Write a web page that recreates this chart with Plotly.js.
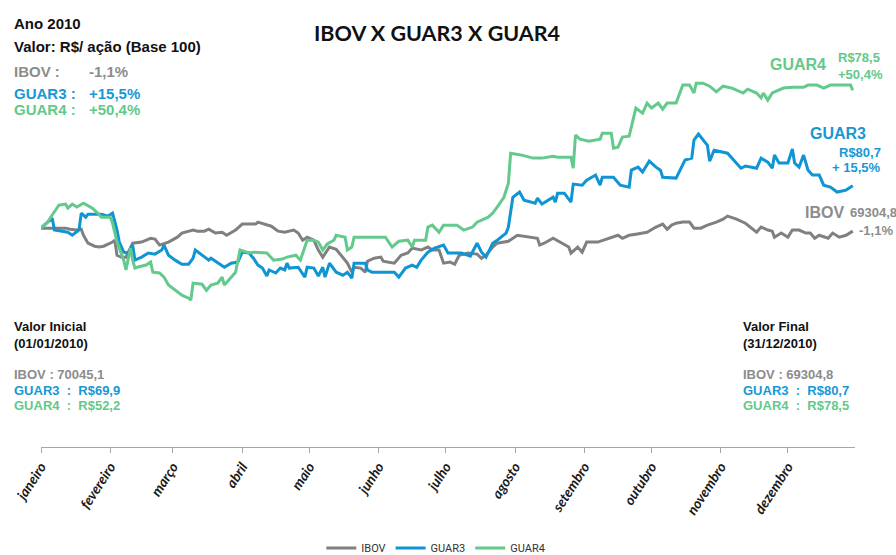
<!DOCTYPE html>
<html>
<head>
<meta charset="utf-8">
<script src="https://cdn.plot.ly/plotly-3.0.1.min.js"></script>
<style>
  body { margin: 0; background: #fff; }
  #plotArea { width: 896px; height: 555px; }
</style>
</head>
<body>
<div id="plotArea"></div>
<script>
// dias do ano (0 = 01/01/2010), valores em base 100
var ibovDays = [0,6,11,13,16,18,19,21,24,26,28,32,33,34,36,38,40,41,45,49,51,53,57,61,63,68,70,73,75,78,81,83,87,90,94,96,97,100,103,106,109,113,115,117,119,122,124,126,129,132,135,137,139,140,143,145,146,149,152,153,155,158,161,164,166,170,173,175,178,180,183,185,187,190,191,195,197,199,202,204,209,213,218,222,223,225,229,233,236,237,240,242,244,249,254,258,260,263,266,269,271,275,278,280,282,284,287,290,292,295,298,302,305,307,311,315,317,320,322,325,327,328,331,334,336,339,342,344,346,348,352,354,357,360,363];
var ibovValues = [100,100,100,99.6,99.3,99.6,97.4,94.5,93.4,93.1,93.4,94.9,95.6,90.1,89.4,89.4,93.1,94.5,94.9,96.3,96.0,93.8,94.9,96.7,98.2,99.3,98.9,98.9,99.6,98.2,98.5,97.4,99.3,101.5,101.5,101.5,102.2,101.5,100.7,98.9,98.5,99.3,98.2,95.6,96.7,95.6,92.0,89.4,93.1,92.3,89.4,87.2,83.9,85.7,85.4,83.9,87.9,89.0,89.4,87.9,87.6,87.2,90.1,90.9,92.7,92.0,93.1,92.0,92.0,87.2,87.6,86.8,90.1,90.5,90.9,90.5,89.0,90.1,93.1,94.5,95.2,97.4,96.7,96.3,93.8,94.5,96.3,94.5,93.1,90.9,93.1,91.2,94.9,94.9,96.3,97.4,96.3,97.4,97.8,98.2,98.5,100.4,101.5,99.6,101.1,101.8,102.2,102.2,100.0,100.0,101.1,102.2,103.3,104.4,103.3,101.8,100.4,98.5,100.4,99.3,98.9,96.7,98.2,96.7,99.3,99.3,98.2,98.2,96.3,97.4,96.3,98.2,96.7,97.4,98.9];

var guar3Days = [0,5,6,9,12,14,17,18,20,21,27,30,32,34,35,37,39,41,42,45,48,51,54,55,57,60,63,66,68,69,72,75,76,79,82,85,88,90,93,95,97,99,101,102,105,107,109,110,111,115,118,119,122,124,126,127,129,132,135,137,139,140,145,146,148,158,160,163,166,168,170,173,176,180,182,186,188,192,195,197,199,202,204,208,209,211,214,216,221,222,224,229,230,231,234,237,238,242,244,248,250,251,256,259,263,264,267,269,272,275,277,278,284,288,291,292,294,298,299,301,307,313,315,320,322,325,327,328,330,334,336,337,339,341,343,345,348,350,353,356,360,363];
var guar3Values = [100,103.7,99.3,98.9,98.5,97.4,99.3,105.5,104.0,105.1,105.1,104.4,105.5,99.3,94.9,91.2,90.9,93.8,88.3,89.4,90.9,90.5,92.0,93.8,90.1,88.3,86.8,86.8,89.0,92.0,90.1,88.3,89.0,87.2,85.7,87.2,87.6,91.2,90.9,89.0,86.5,85.4,82.5,84.7,83.6,85.4,84.7,87.2,85.4,85.7,82.1,85.7,85.4,82.5,85.7,82.1,87.2,83.9,82.8,83.9,81.7,87.2,87.2,84.7,83.9,83.9,82.1,85.4,86.5,85.7,88.3,91.2,92.7,93.8,90.9,90.9,90.9,89.8,94.5,91.2,89.4,94.5,95.6,98.2,100.4,111.3,113.2,110.2,109.1,111.0,108.8,111.3,109.5,112.8,112.8,109.5,116.1,115.7,117.5,119.4,115.7,118.6,118.6,115.7,115.0,121.2,122.3,120.5,124.5,122.3,121.2,118.6,118.3,124.9,125.6,132.2,134.4,130.3,124.5,128.5,127.4,121.9,122.7,121.9,125.6,124.1,121.9,126.7,123.8,123.8,128.9,123.8,122.3,126.7,121.2,119.4,119.4,115.7,115.0,113.2,113.9,115.5];

var guar4Days = [0,3,5,8,11,12,14,16,19,23,25,27,31,32,34,37,38,40,41,42,43,47,49,50,53,55,57,60,63,66,67,68,72,74,76,79,81,82,84,87,89,93,95,101,104,108,110,114,116,117,119,122,124,126,128,131,132,136,137,139,140,151,154,157,160,164,166,167,172,173,175,178,180,186,189,193,195,200,202,204,207,209,210,215,220,224,229,231,237,238,239,241,245,250,251,255,256,258,260,263,266,269,271,273,276,278,280,284,286,287,290,292,293,296,299,302,305,309,314,316,320,322,323,325,327,332,336,341,343,347,350,353,362,363];
var guar4Values = [100,102.2,104.8,108.4,108.8,107.3,108.8,107.7,109.1,107.3,105.8,104.0,104.0,101.8,94.9,88.3,84.7,92.7,88.3,85.4,85.7,86.5,87.6,83.9,83.6,82.1,79.2,77.3,75.5,74.4,73.7,79.9,79.5,77.3,79.2,79.9,82.1,79.2,81.0,83.9,92.0,90.9,91.2,90.9,88.3,88.7,89.4,90.1,88.3,90.9,95.6,95.6,94.9,92.0,94.2,95.6,97.4,96.7,92.0,93.1,96.7,96.7,96.7,93.1,95.2,95.6,93.1,95.6,95.6,100.4,101.1,98.5,101.1,101.1,99.3,100.4,102.2,104.0,105.5,107.7,111.3,116.4,127.4,126.7,125.6,125.6,126.3,125.9,125.9,121.9,134.0,132.5,131.8,132.5,134.7,134.7,129.2,129.6,133.3,133.6,143.9,142.0,145.7,143.9,145.7,143.5,145.7,145.7,149.8,152.3,152.3,149.4,153.0,153.0,151.9,149.8,151.9,151.2,149.4,150.8,149.4,147.6,149.4,146.8,149.4,151.2,151.5,151.5,152.3,152.3,151.2,152.3,152.3,150.4];

var monthTicks = [0,31,59,90,120,151,181,212,243,273,304,334];
var monthLabels = ["janeiro","fevereiro","março","abril","maio","junho","julho","agosto","setembro","outubro","novembro","dezembro"];

var GRAY = "#808080", BLUE = "#0f95d3", GREEN = "#63c98c";
var GRAY_TXT = "#8c8c8c", BLUE_TXT = "#1798d5", GREEN_TXT = "#62c98b";

var data = [
  { x: ibovDays, y: ibovValues, name: "IBOV", type: "scatter", mode: "lines",
    line: { color: GRAY, width: 3 } },
  { x: guar3Days, y: guar3Values, name: "GUAR3", type: "scatter", mode: "lines",
    line: { color: BLUE, width: 3 } },
  { x: guar4Days, y: guar4Values, name: "GUAR4", type: "scatter", mode: "lines",
    line: { color: GREEN, width: 3 } }
];

// pixel -> paper (plot area: x 41..855, y 64..447)
function px(x) { return (x - 41) / 814; }
function py(y) { return (447 - y) / 383; }

var SANS = "Liberation Sans, Arial, sans-serif";
function note(text, x, y, size, color, anchor) {
  return {
    text: "<b>" + text + "</b>", xref: "paper", yref: "paper",
    x: px(x), y: py(y), xanchor: anchor || "left", yanchor: "middle",
    showarrow: false, font: { family: SANS, size: size, color: color }
  };
}

var annotations = [
  { text: "<b>IBOV X GUAR3 X GUAR4</b>", xref: "paper", yref: "paper",
    x: px(437), y: py(33), xanchor: "center", yanchor: "middle", showarrow: false,
    font: { family: "Lato, sans-serif", size: 21.5, color: "#111" } },

  note("Ano 2010", 12, 23, 15, "#111"),
  note("Valor: R$/ ação (Base 100)", 12, 47, 15, "#111"),
  note("IBOV :", 12, 71, 15, GRAY_TXT),
  note("-1,1%", 87, 71, 15, GRAY_TXT),
  note("GUAR3 :", 12, 93, 15, BLUE_TXT),
  note("+15,5%", 87, 93, 15, BLUE_TXT),
  note("GUAR4 :", 12, 109, 15, GREEN_TXT),
  note("+50,4%", 87, 109, 15, GREEN_TXT),

  note("GUAR4", 768, 64, 16, GREEN_TXT),
  note("R$78,5", 836, 57, 13, GREEN_TXT),
  note("+50,4%", 836, 74, 13, GREEN_TXT),
  note("GUAR3", 808, 133, 16, BLUE_TXT),
  note("R$80,7", 883, 152, 13, BLUE_TXT, "right"),
  note("+ 15,5%", 883, 167, 13, BLUE_TXT, "right"),
  note("IBOV", 803, 213, 16, GRAY_TXT),
  note("69304,8", 848, 213, 13, GRAY_TXT),
  note("-1,1%", 857, 231, 13, GRAY_TXT),

  note("Valor Inicial", 12, 326, 13, "#111"),
  note("(01/01/2010)", 12, 343, 13, "#111"),
  note("IBOV : 70045,1", 12, 374, 13, GRAY_TXT),
  note("GUAR3  :  R$69,9", 12, 390, 13, BLUE_TXT),
  note("GUAR4  :  R$52,2", 12, 405, 13, GREEN_TXT),

  note("Valor Final", 741, 326, 13, "#111"),
  note("(31/12/2010)", 741, 343, 13, "#111"),
  note("IBOV : 69304,8", 741, 374, 13, GRAY_TXT),
  note("GUAR3  :  R$80,7", 741, 390, 13, BLUE_TXT),
  note("GUAR4  :  R$78,5", 741, 405, 13, GREEN_TXT)
];

var layout = {
  width: 896, height: 555,
  margin: { l: 41, r: 41, t: 64, b: 108 },
  paper_bgcolor: "#fff", plot_bgcolor: "#fff",
  showlegend: true,
  legend: {
    orientation: "h", x: 0.485, xanchor: "center",
    yref: "container", y: 7 / 555, yanchor: "middle",
    font: { family: "Liberation Sans Narrow, Roboto, sans-serif", size: 11, color: "#333" }
  },
  xaxis: {
    range: [0, 364], tickvals: monthTicks, ticktext: monthLabels, tickangle: -57,
    ticks: "outside", ticklen: 5, tickcolor: "#a6a6a6", automargin: false,
    showline: true, linecolor: "#a6a6a6", linewidth: 1,
    showgrid: false, zeroline: false, fixedrange: true,
    tickfont: { family: "Lato, sans-serif", size: 14, color: "#1a1a1a", weight: "bold", style: "italic" }
  },
  yaxis: { range: [20, 160], visible: false, fixedrange: true, automargin: false },
  annotations: annotations,
  hovermode: false
};

Plotly.newPlot("plotArea", data, layout, { displayModeBar: false, staticPlot: true });
</script>
</body>
</html>
